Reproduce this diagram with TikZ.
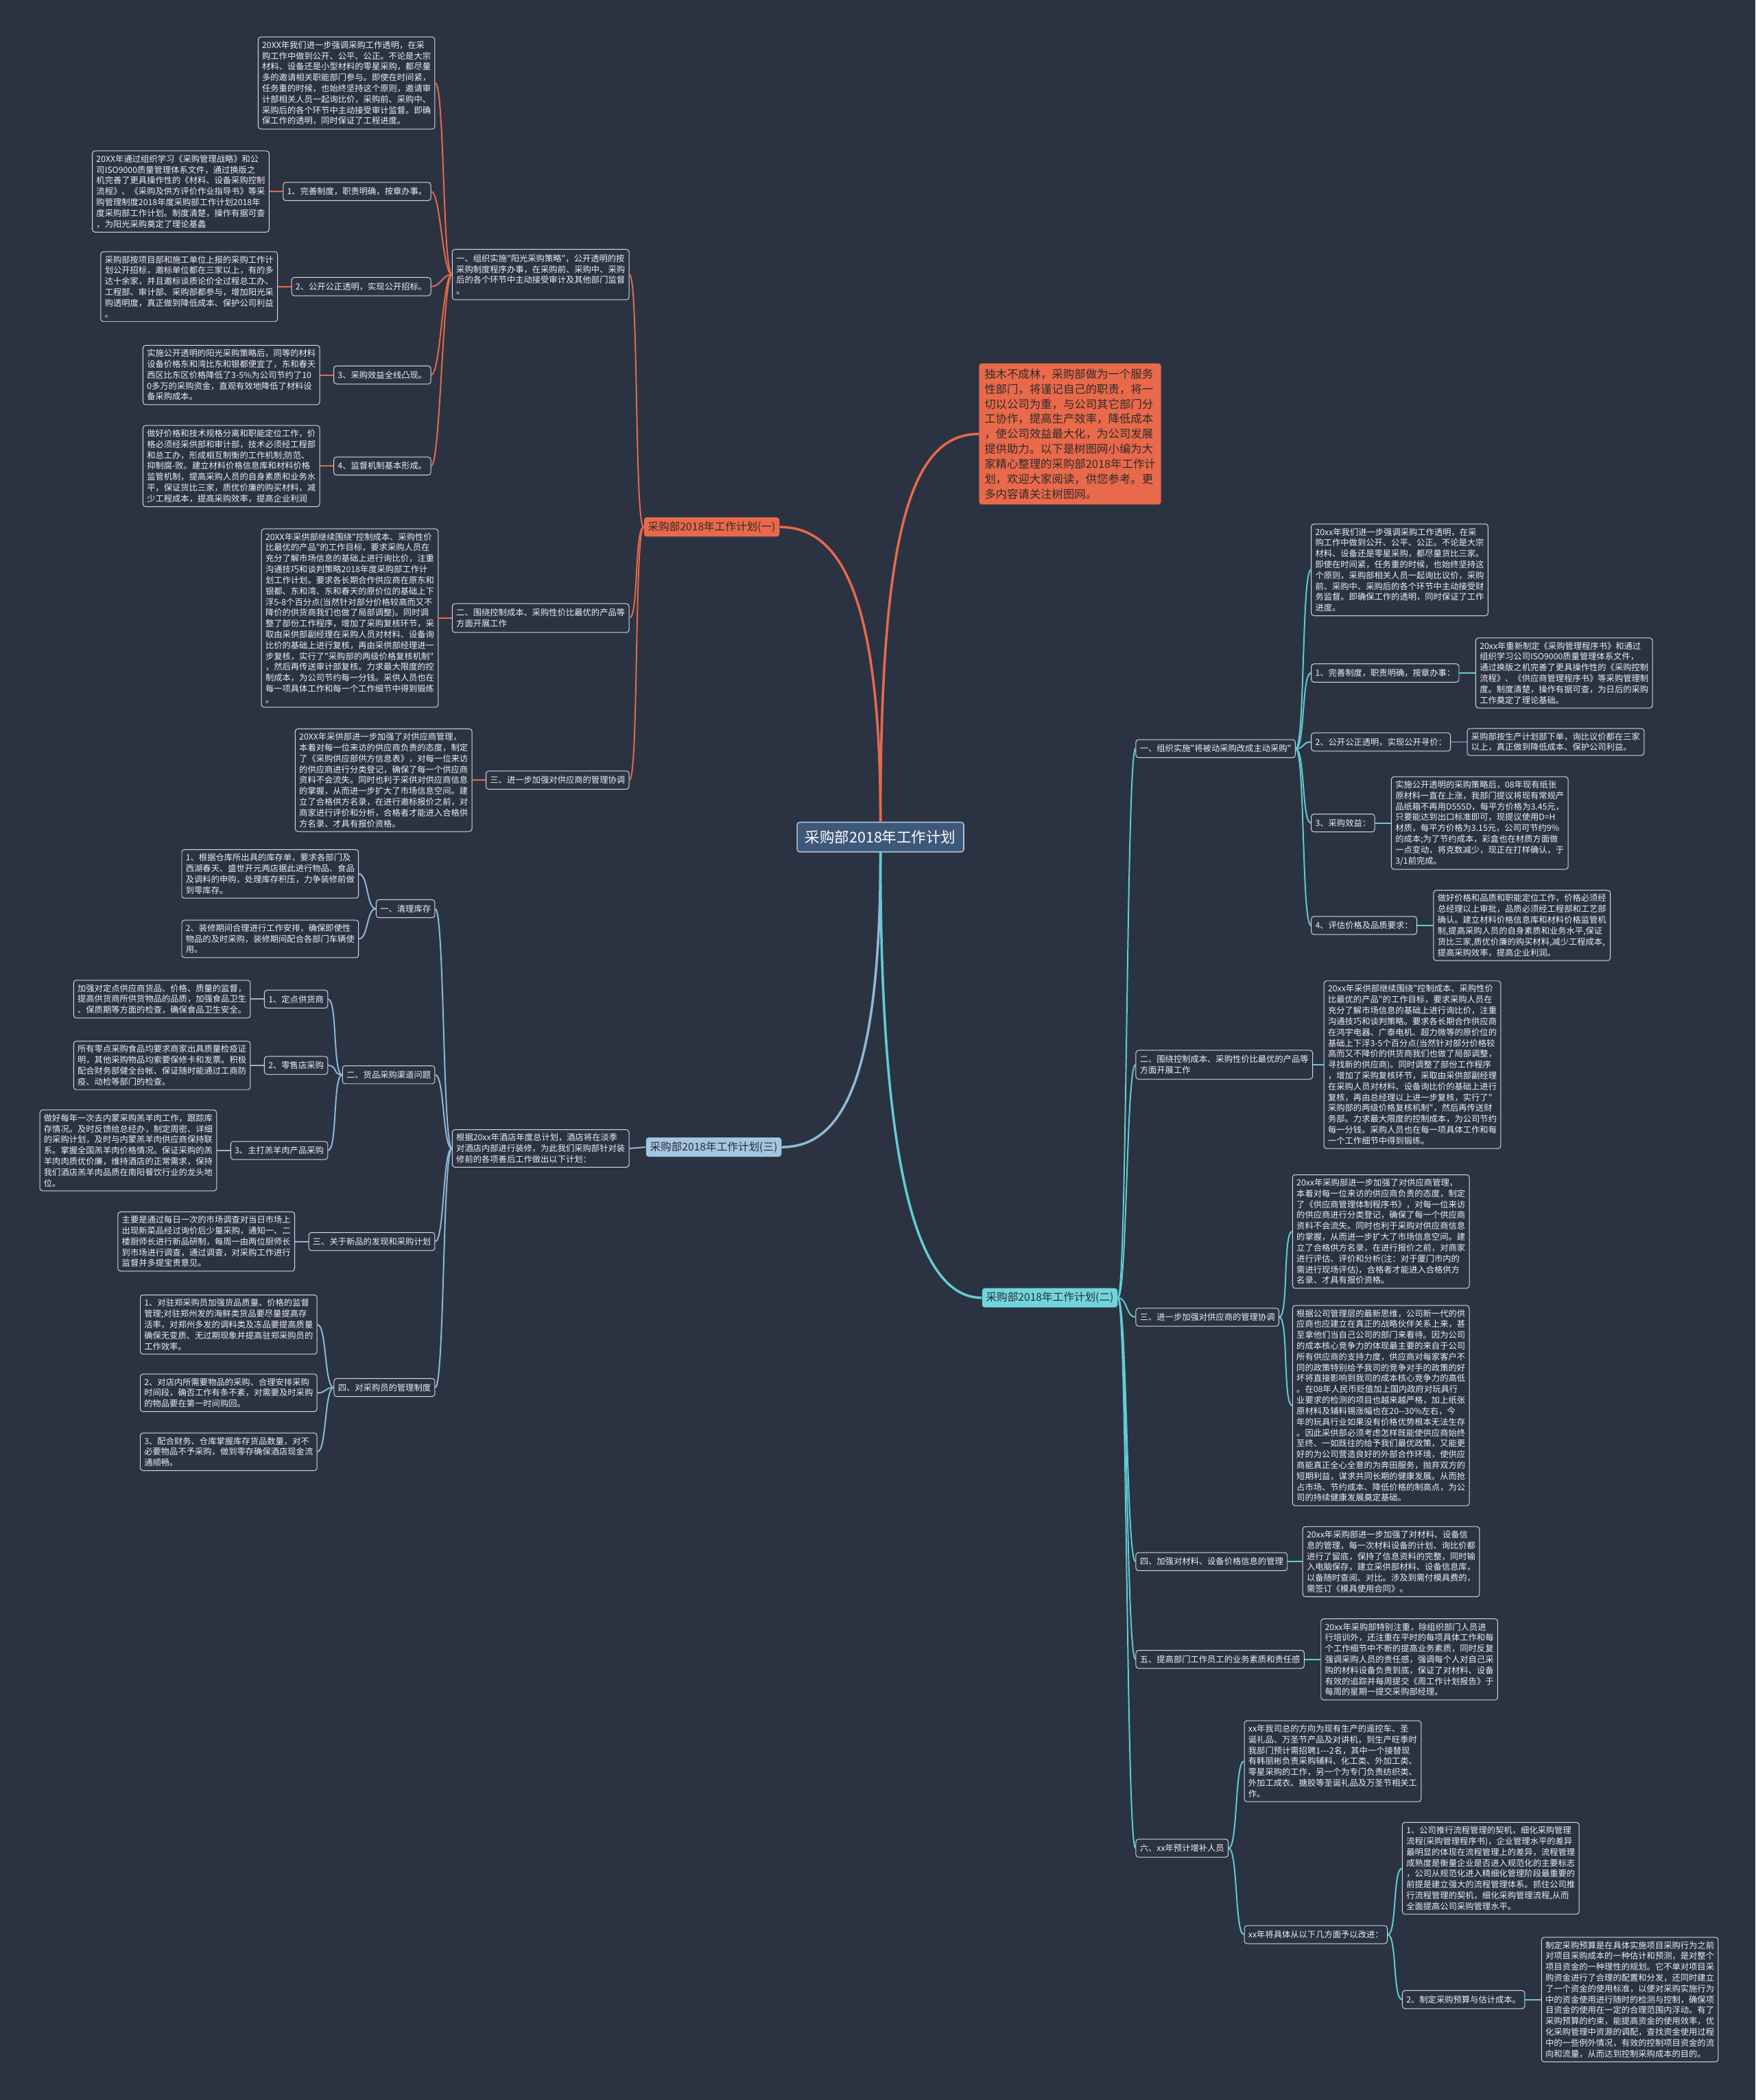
\documentclass[tikz,border=0pt]{standalone}
\usepackage{fontspec}
\newfontfamily\cjk{Noto Sans CJK SC}
\definecolor{bgc}{HTML}{2B3342}
\definecolor{bordc}{HTML}{D5D9DF}
\definecolor{txtc}{HTML}{EEF0F2}
\definecolor{oraC}{HTML}{E9694B}
\definecolor{cyaF}{HTML}{70D6DD}
\definecolor{cyaL}{HTML}{62CDD5}
\definecolor{bluF}{HTML}{A3C6E2}
\definecolor{bluL}{HTML}{8FB9DA}
\definecolor{cenF}{HTML}{3D5879}
\definecolor{cenB}{HTML}{A9C1DC}
\definecolor{darkt}{HTML}{2F2B2B}
\newcommand\conL[2]{\draw (#1.west) .. controls +(-7,0) and +(7,0) .. (#2.east);}
\newcommand\conR[2]{\draw (#1.east) .. controls +(7,0) and +(-7,0) .. (#2.west);}
\newcommand\strL[2]{\draw (#1.west) -- (#2.east);}
\newcommand\strR[2]{\draw (#1.east) -- (#2.west);}
\begin{document}
\begin{tikzpicture}[x=1pt,y=-1pt,
  para/.style={draw=bordc, fill=bgc, text=txtc, rounded corners=2pt, line width=0.5pt, align=left, inner xsep=3pt, inner ysep=3pt, font=\cjk\fontsize{6.3}{8.1}\selectfont},
  lab/.style={para, inner ysep=3.8pt},
  brbox/.style={rounded corners=2pt, inner xsep=3pt, inner ysep=3pt, text=darkt, font=\cjk\fontsize{8}{10}\selectfont},
]
\path[use as bounding box, fill=bgc] (0,0) rectangle (1311,1568);

% centre
\node[draw=cenB, fill=cenF, text=white, rounded corners=2pt, line width=0.8pt, inner xsep=6pt, inner ysep=6pt, font=\cjk\fontsize{11}{13}\selectfont] (C) at (657.5,625) {采购部2018年工作计划};

% intro
\node[fill=oraC, text=darkt, rounded corners=2pt, align=left, inner xsep=4pt, inner ysep=4pt, font=\cjk\fontsize{8.4}{11.2}\selectfont, anchor=west] (I) at (731,324) {独木不成林，采购部做为一个服务\\
性部门，将谨记自己的职责，将一\\
切以公司为重，与公司其它部门分\\
工协作，提高生产效率，降低成本\\
，使公司效益最大化，为公司发展\\
提供助力。以下是树图网小编为大\\
家精心整理的采购部2018年工作计\\
划，欢迎大家阅读，供您参考。更\\
多内容请关注树图网。};

% ===== branch (一)
\node[brbox, fill=oraC] (BA) at (531.5,393.5) {采购部2018年工作计划(一)};
\node[lab, anchor=east] (N1) at (470,205) {一、组织实施"阳光采购策略"，公开透明的按\\
采购制度程序办事，在采购前、采购中、采购\\
后的各个环节中主动接受审计及其他部门监督\\
。};
\node[para, anchor=east] (P1) at (325,62) {20XX年我们进一步强调采购工作透明，在采\\
购工作中做到公开、公平、公正。不论是大宗\\
材料、设备还是小型材料的零星采购，都尽量\\
多的邀请相关职能部门参与。即使在时间紧，\\
任务重的时候，也始终坚持这个原则，邀请审\\
计部相关人员一起询比价，采购前、采购中、\\
采购后的各个环节中主动接受审计监督。即确\\
保工作的透明，同时保证了工程进度。};
\node[lab, anchor=east] (L1) at (322,143) {1、完善制度，职责明确，按章办事。};
\node[para, anchor=east] (P2) at ([xshift=-10pt]L1.west) {20XX年通过组织学习《采购管理战略》和公\\
司ISO9000质量管理体系文件，通过换版之\\
机完善了更具操作性的《材料、设备采购控制\\
流程》、《采购及供方评价作业指导书》等采\\
购管理制度2018年度采购部工作计划2018年\\
度采购部工作计划。制度清楚，操作有据可查\\
，为阳光采购奠定了理论基蠡};
\node[lab, anchor=east] (L2) at (322,214) {2、公开公正透明，实现公开招标。};
\node[para, anchor=east] (P3) at ([xshift=-10pt]L2.west) {采购部按项目部和施工单位上报的采购工作计\\
划公开招标，邀标单位都在三家以上，有的多\\
达十余家，并且邀标谈质论价全过程总工办、\\
工程部、审计部、采购部都参与，增加阳光采\\
购透明度，真正做到降低成本、保护公司利益\\
。};
\node[lab, anchor=east] (L3) at (322,280) {3、采购效益全线凸现。};
\node[para, anchor=east] (P4) at ([xshift=-10pt]L3.west) {实施公开透明的阳光采购策略后，同等的材料\\
设备价格东和湾比东和银都便宜了，东和春天\\
西区比东区价格降低了3-5\%为公司节约了10\\
0多万的采购资金，直观有效地降低了材料设\\
备采购成本。};
\node[lab, anchor=east] (L4) at (322,348) {4、监督机制基本形成。};
\node[para, anchor=east] (P5) at ([xshift=-10pt]L4.west) {做好价格和技术规格分离和职能定位工作，价\\
格必须经采供部和审计部，技术必须经工程部\\
和总工办，形成相互制衡的工作机制;防范、\\
抑制腐-败。建立材料价格信息库和材料价格\\
监管机制，提高采购人员的自身素质和业务水\\
平，保证货比三家，质优价廉的购买材料，减\\
少工程成本，提高采购效率，提高企业利润};
\node[lab, anchor=east] (N2) at (470,461.5) {二、围绕控制成本、采购性价比最优的产品等\\
方面开展工作};
\node[para, anchor=east] (P6) at ([xshift=-10pt]N2.west) {20XX年采供部继续围绕"控制成本、采购性价\\
比最优的产品"的工作目标，要求采购人员在\\
充分了解市场信息的基础上进行询比价，注重\\
沟通技巧和谈判策略2018年度采购部工作计\\
划工作计划。要求各长期合作供应商在原东和\\
银都、东和湾、东和春天的原价位的基础上下\\
浮5-8个百分点(当然针对部分价格较高而又不\\
降价的供货商我们也做了局部调整)。同时调\\
整了部份工作程序，增加了采购复核环节，采\\
取由采供部副经理在采购人员对材料、设备询\\
比价的基础上进行复核，再由采供部经理进一\\
步复核，实行了"采购部的两级价格复核机制"\\
，然后再传送审计部复核。力求最大限度的控\\
制成本，为公司节约每一分钱。采供人员也在\\
每一项具体工作和每一个工作细节中得到锻练\\
。};
\node[lab, anchor=east] (N3) at (470,582.5) {三、进一步加强对供应商的管理协调};
\node[para, anchor=east] (P7) at ([xshift=-10pt]N3.west) {20XX年采供部进一步加强了对供应商管理，\\
本着对每一位来访的供应商负责的态度，制定\\
了《采购供应部供方信息表》，对每一位来访\\
的供应商进行分类登记，确保了每一个供应商\\
资料不会流失。同时也利于采供对供应商信息\\
的掌握，从而进一步扩大了市场信息空间。建\\
立了合格供方名录，在进行邀标报价之前，对\\
商家进行评价和分析，合格者才能进入合格供\\
方名录、才具有报价资格。};

% ===== branch (三)
\node[brbox, fill=bluF] (BC) at (533,856.5) {采购部2018年工作计划(三)};
\node[para, anchor=east] (Q0) at (470,857.5) {根据20xx年酒店年度总计划，酒店将在淡季\\
对酒店内部进行装修，为此我们采购部针对装\\
修前的各项善后工作做出以下计划：};
\node[lab, anchor=east] (G1) at (325,678.5) {一、清理库存};
\node[para, anchor=east] (Q11) at (268,652.5) {1、根据仓库所出具的库存单，要求各部门及\\
西湖春天、盛世开元两店据此进行物品、食品\\
及调料的申购，处理库存积压，力争装修前做\\
到零库存。};
\node[para, anchor=east] (Q12) at (268,701) {2、装修期间合理进行工作安排，确保即使性\\
物品的及时采购，装修期间配合各部门车辆使\\
用。};
\node[lab, anchor=east] (G2) at (325,802.5) {二、货品采购渠道问题};
\node[lab, anchor=east] (H1) at (245,746) {1、定点供货商};
\node[para, anchor=east] (H1p) at ([xshift=-10pt]H1.west) {加强对定点供应商货品、价格、质量的监督，\\
提高供货商所供货物品的品质，加强食品卫生\\
、保质期等方面的检查，确保食品卫生安全。};
\node[lab, anchor=east] (H2) at (245,795.5) {2、零售店采购};
\node[para, anchor=east] (H2p) at ([xshift=-10pt]H2.west) {所有零点采购食品均要求商家出具质量检疫证\\
明，其他采购物品均索要保修卡和发票。积极\\
配合财务部健全台帐、保证随时能通过工商防\\
疫、动检等部门的检查。};
\node[lab, anchor=east] (H3) at (245,859) {3、主打羔羊肉产品采购};
\node[para, anchor=east] (H3p) at ([xshift=-10pt]H3.west) {做好每年一次去内蒙采购羔羊肉工作，跟踪库\\
存情况。及时反馈给总经办，制定周密、详细\\
的采购计划，及时与内蒙羔羊肉供应商保持联\\
系。掌握全国羔羊肉价格情况。保证采购的羔\\
羊肉肉质优价廉，维持酒店的正常需求，保持\\
我们酒店羔羊肉品质在南阳餐饮行业的龙头地\\
位。};
\node[lab, anchor=east] (G3) at (325,927) {三、关于新品的发现和采购计划};
\node[para, anchor=east] (G3p) at ([xshift=-10pt]G3.west) {主要是通过每日一次的市场调查对当日市场上\\
出现新菜品经过询价后少量采购，通知一、二\\
楼厨师长进行新品研制，每周一由两位厨师长\\
到市场进行调查，通过调查，对采购工作进行\\
监督并多提宝贵意见。};
\node[lab, anchor=east] (G4) at (325,1036) {四、对采购员的管理制度};
\node[para, anchor=east] (D1) at (237,989) {1、对驻郑采购员加强货品质量、价格的监督\\
管理;对驻郑州发的海鲜类货品要尽量提高存\\
活率，对郑州多发的调料类及冻品要提高质量\\
确保无变质、无过期现象并提高驻郑采购员的\\
工作效率。};
\node[para, anchor=east] (D2) at (237,1040) {2、对店内所需要物品的采购、合理安排采购\\
时间段，确否工作有条不紊，对需要及时采购\\
的物品要在第一时间购回。};
\node[para, anchor=east] (D3) at (237,1084) {3、配合财务、仓库掌握库存货品数量，对不\\
必要物品不予采购，做到零存确保酒店现金流\\
通顺畅。};

% ===== branch (二)
\node[brbox, fill=cyaF] (BB) at (784,969) {采购部2018年工作计划(二)};
\node[lab, anchor=west] (R1) at (848,559) {一、组织实施"将被动采购改成主动采购"};
\node[para, anchor=west] (S1) at (979,425.5) {20xx年我们进一步强调采购工作透明，在采\\
购工作中做到公开、公平、公正。不论是大宗\\
材料、设备还是零星采购，都尽量货比三家。\\
即使在时间紧，任务重的时候，也始终坚持这\\
个原则，采购部相关人员一起询比议价，采购\\
前、采购中、采购后的各个环节中主动接受财\\
务监督。即确保工作的透明，同时保证了工作\\
进度。};
\node[lab, anchor=west] (S2) at (979,502.5) {1、完善制度，职责明确，按章办事：};
\node[para, anchor=west] (S2a) at ([xshift=12pt]S2.east) {20xx年重新制定《采购管理程序书》和通过\\
组织学习公司ISO9000质量管理体系文件，\\
通过换版之机完善了更具操作性的《采购控制\\
流程》、《供应商管理程序书》等采购管理制\\
度。制度清楚，操作有据可查，为日后的采购\\
工作奠定了理论基础。};
\node[lab, anchor=west] (S3) at (979,554) {2、公开公正透明，实现公开寻价：};
\node[para, anchor=west] (S3a) at ([xshift=12pt]S3.east) {采购部按生产计划部下单，询比议价都在三家\\
以上，真正做到降低成本、保护公司利益。};
\node[lab, anchor=west] (S4) at (979,614.5) {3、采购效益：};
\node[para, anchor=west] (S4a) at ([xshift=12pt]S4.east) {实施公开透明的采购策略后，08年现有纸张\\
原材料一直在上涨，我部门提议将现有常规产\\
品纸箱不再用D555D，每平方价格为3.45元，\\
只要能达到出口标准即可，现提议使用D=H\\
材质，每平方价格为3.15元，公司可节约9\%\\
的成本;为了节约成本，彩盒也在材质方面做\\
一点变动，将克数减少，现正在打样确认，于\\
3/1前完成。};
\node[lab, anchor=west] (S5) at (979,691) {4、评估价格及品质要求：};
\node[para, anchor=west] (S5a) at ([xshift=12pt]S5.east) {做好价格和品质和职能定位工作，价格必须经\\
总经理以上审批，品质必须经工程部和工艺部\\
确认。建立材料价格信息库和材料价格监管机\\
制,提高采购人员的自身素质和业务水平,保证\\
货比三家,质优价廉的购买材料,减少工程成本,\\
提高采购效率，提高企业利润。};
\node[lab, anchor=west] (R2) at (848,795) {二、围绕控制成本、采购性价比最优的产品等\\
方面开展工作};
\node[para, anchor=west] (T1) at ([xshift=8pt]R2.east) {20xx年采供部继续围绕"控制成本、采购性价\\
比最优的产品"的工作目标，要求采购人员在\\
充分了解市场信息的基础上进行询比价，注重\\
沟通技巧和谈判策略。要求各长期合作供应商\\
在鸿宇电器、广泰电机、超力微等的原价位的\\
基础上下浮3-5个百分点(当然针对部分价格较\\
高而又不降价的供货商我们也做了局部调整，\\
寻找新的供应商)。同时调整了部份工作程序\\
，增加了采购复核环节，采取由采供部副经理\\
在采购人员对材料、设备询比价的基础上进行\\
复核，再由总经理以上进一步复核，实行了"\\
采购部的两级价格复核机制"，然后再传送财\\
务部。力求最大限度的控制成本，为公司节约\\
每一分钱。采购人员也在每一项具体工作和每\\
一个工作细节中得到锻练。};
\node[lab, anchor=west] (R3) at (848,983.5) {三、进一步加强对供应商的管理协调};
\node[para, anchor=west] (U1) at (965,919.5) {20xx年采购部进一步加强了对供应商管理，\\
本着对每一位来访的供应商负责的态度，制定\\
了《供应商管理体制程序书》，对每一位来访\\
的供应商进行分类登记，确保了每一个供应商\\
资料不会流失。同时也利于采购对供应商信息\\
的掌握，从而进一步扩大了市场信息空间。建\\
立了合格供方名录，在进行报价之前，对商家\\
进行评估、评价和分析(注：对于厦门市内的\\
需进行现场评估)，合格者才能进入合格供方\\
名录、才具有报价资格。};
\node[para, anchor=west] (U2) at (965,1049.5) {根据公司管理层的最新思维，公司新一代的供\\
应商也应建立在真正的战略伙伴关系上来，甚\\
至拿他们当自己公司的部门来看待。因为公司\\
的成本核心竞争力的体现最主要的来自于公司\\
所有供应商的支持力度，供应商对每家客户不\\
同的政策特别给予我司的竞争对手的政策的好\\
坏将直接影响到我司的成本核心竞争力的高低\\
。在08年人民币贬值加上国内政府对玩具行\\
业要求的检测的项目也越来越严格，加上纸张\\
原材料及辅料锡涨幅也在20-\kern0pt-30\%左右，今\\
年的玩具行业如果没有价格优势根本无法生存\\
。因此采供部必须考虑怎样既能使供应商始终\\
至终、一如既往的给予我们最优政策，又能更\\
好的为公司营造良好的外部合作环境，使供应\\
商能真正全心全意的为奔田服务，抛弃双方的\\
短期利益，谋求共同长期的健康发展。从而抢\\
占市场、节约成本、降低价格的制高点，为公\\
司的持续健康发展奠定基础。};
\node[lab, anchor=west] (R4) at (848,1166) {四、加强对材料、设备价格信息的管理};
\node[para, anchor=west] (V1) at ([xshift=11pt]R4.east) {20xx年采购部进一步加强了对材料、设备信\\
息的管理，每一次材料设备的计划、询比价都\\
进行了留底，保持了信息资料的完整，同时输\\
入电脑保存，建立采供部材料、设备信息库，\\
以备随时查阅、对比。涉及到需付模具费的，\\
需签订《模具使用合同》。};
\node[lab, anchor=west] (R5) at (848,1239) {五、提高部门工作员工的业务素质和责任感};
\node[para, anchor=west] (W1) at ([xshift=12pt]R5.east) {20xx年采购部特别注重，除组织部门人员进\\
行培训外，还注重在平时的每项具体工作和每\\
个工作细节中不断的提高业务素质，同时反复\\
强调采购人员的责任感，强调每个人对自己采\\
购的材料设备负责到底，保证了对材料、设备\\
有效的追踪并每周提交《周工作计划报告》于\\
每周的星期一提交采购部经理。};
\node[lab, anchor=west] (R6) at (848,1380) {六、xx年预计增补人员};
\node[para, anchor=west] (X1) at (929,1315) {xx年我司总的方向为现有生产的遥控车、圣\\
诞礼品、万圣节产品及对讲机，到生产旺季时\\
我部门预计需招聘1-\kern0pt-\kern0pt-2名，其中一个接替现\\
有韩丽彬负责采购辅料、化工类、外加工类、\\
零星采购的工作，另一个为专门负责纺织类、\\
外加工成衣、搪胶等圣诞礼品及万圣节相关工\\
作。};
\node[lab, anchor=west] (X2) at (929,1444.5) {xx年将具体从以下几方面予以改进：};
\node[para, anchor=west] (X2a) at (1047,1395) {1、公司推行流程管理的契机，细化采购管理\\
流程(采购管理程序书)，企业管理水平的差异\\
最明显的体现在流程管理上的差异，流程管理\\
成熟度是衡量企业是否进入规范化的主要标志\\
，公司从规范化进入精细化管理阶段最重要的\\
前提是建立强大的流程管理体系。抓住公司推\\
行流程管理的契机，细化采购管理流程,从而\\
全面提高公司采购管理水平。};
\node[lab, anchor=west] (X2b) at (1047,1493) {2、制定采购预算与估计成本。};
\node[para, anchor=west] (X2c) at ([xshift=12pt]X2b.east) {制定采购预算是在具体实施项目采购行为之前\\
对项目采购成本的一种估计和预测，是对整个\\
项目资金的一种理性的规划。它不单对项目采\\
购资金进行了合理的配置和分发，还同时建立\\
了一个资金的使用标准，以便对采购实施行为\\
中的资金使用进行随时的检测与控制，确保项\\
目资金的使用在一定的合理范围内浮动。有了\\
采购预算的约束，能提高资金的使用效率，优\\
化采购管理中资源的调配，查找资金使用过程\\
中的一些例外情况，有效的控制项目资金的流\\
向和流量，从而达到控制采购成本的目的。};

% ===== connectors
\begin{scope}[oraC, line width=1.8pt]
\draw (C.north) .. controls +(0,-170) and +(45,0) .. (BA.east);
\draw (C.north) .. controls +(0,-220) and +(-50,0) .. (I.west);
\end{scope}
\begin{scope}[bluL, line width=1.8pt]
\draw (C.south) .. controls +(0,170) and +(45,0) .. (BC.east);
\end{scope}
\begin{scope}[cyaL, line width=1.8pt]
\draw (C.south) .. controls +(0,250) and +(-45,0) .. (BB.west);
\end{scope}

\begin{scope}[oraC, line width=1pt]
\conL{BA}{N1} \conL{BA}{N2} \conL{BA}{N3}
\conL{N1}{P1} \conL{N1}{L1} \conL{N1}{L2} \conL{N1}{L3} \conL{N1}{L4}
\strL{L1}{P2} \strL{L2}{P3} \strL{L3}{P4} \strL{L4}{P5}
\strL{N2}{P6} \strL{N3}{P7}
\end{scope}

\begin{scope}[bluL, line width=1pt]
\strL{BC}{Q0}
\conL{Q0}{G1} \conL{Q0}{G2} \conL{Q0}{G3} \conL{Q0}{G4}
\conL{G1}{Q11} \conL{G1}{Q12}
\conL{G2}{H1} \conL{G2}{H2} \conL{G2}{H3}
\strL{H1}{H1p} \strL{H2}{H2p} \strL{H3}{H3p}
\strL{G3}{G3p}
\conL{G4}{D1} \conL{G4}{D2} \conL{G4}{D3}
\end{scope}

\begin{scope}[cyaL, line width=1pt]
\conR{BB}{R1} \conR{BB}{R2} \conR{BB}{R3} \conR{BB}{R4} \conR{BB}{R5} \conR{BB}{R6}
\conR{R1}{S1} \conR{R1}{S2} \conR{R1}{S3} \conR{R1}{S4} \conR{R1}{S5}
\strR{S2}{S2a} \strR{S3}{S3a} \strR{S4}{S4a} \strR{S5}{S5a}
\strR{R2}{T1}
\conR{R3}{U1} \conR{R3}{U2}
\strR{R4}{V1} \strR{R5}{W1}
\conR{R6}{X1} \conR{R6}{X2}
\conR{X2}{X2a} \conR{X2}{X2b}
\strR{X2b}{X2c}
\end{scope}
\end{tikzpicture}
\end{document}
